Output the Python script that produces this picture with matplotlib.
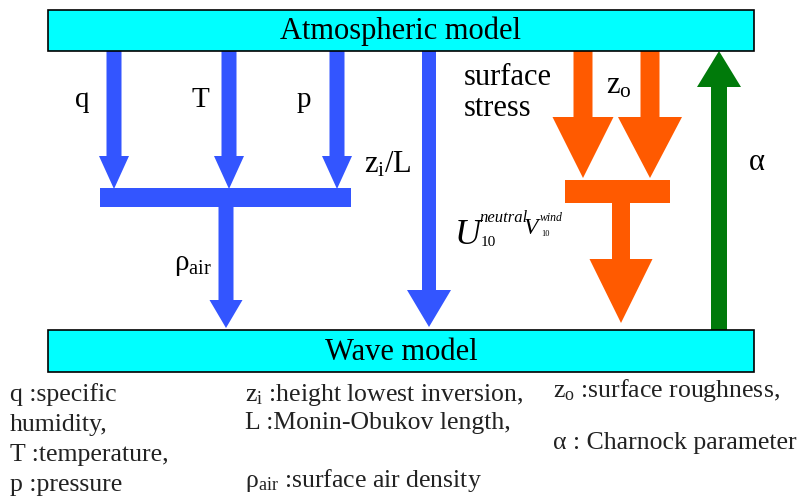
import matplotlib.pyplot as plt
from matplotlib.patches import Rectangle

plt.rcParams['font.family'] = ['Liberation Serif', 'DejaVu Serif']
plt.rcParams['mathtext.fontset'] = 'custom'
plt.rcParams['mathtext.rm'] = 'Liberation Serif'
plt.rcParams['mathtext.it'] = 'Liberation Serif:italic'

blue = '#3355ff'
orange = '#ff5a00'
green = '#007a0a'
cyan = '#00ffff'

# boxes (label, top, bottom)
box_labels = ['Atmospheric model', 'Wave model']
box_top = [10, 330]
box_bot = [51, 372]

# blue input arrows q, T, p
in_labels = ['q', 'T', 'p']
in_x = [114, 229, 337]
in_label_x = [82, 200, 304]

legend_cols = [
    (10, ['q :specific', 'humidity,', 'T :temperature,', 'p :pressure'], [395, 425, 455, 485]),
    (245, [r'z$_{\rm i}$ :height lowest inversion,', 'L :Monin-Obukov length,',
           r'ρ$_{\rm air}$ :surface air density'], [395, 423, 480]),
    (553, [r'z$_{\rm o}$ :surface roughness,', 'α : Charnock parameter'], [390, 443]),
]


def down_arrow(ax, x, y0, y1, sw, hw, hl, color):
    ax.fill([x - sw / 2, x + sw / 2, x + sw / 2, x + hw / 2, x, x - hw / 2, x - sw / 2],
            [y0, y0, y1 - hl, y1 - hl, y1, y1 - hl, y1 - hl], color=color, lw=0)


def up_arrow(ax, x, y0, y1, sw, hw, hl, color):
    ax.fill([x - sw / 2, x + sw / 2, x + sw / 2, x + hw / 2, x, x - hw / 2, x - sw / 2],
            [y0, y0, y1 + hl, y1 + hl, y1, y1 + hl, y1 + hl], color=color, lw=0)


fig = plt.figure(figsize=(8.09, 5.03), dpi=100)
ax = fig.add_axes([0, 0, 1, 1])
ax.set_xlim(0, 809)
ax.set_ylim(503, 0)
ax.axis('off')

for lab, t, b in zip(box_labels, box_top, box_bot):
    ax.add_patch(Rectangle((48, t), 706, b - t, fc=cyan, ec='black', lw=1.2, zorder=3))
    ax.text(401, (t + b) / 2 + 1, lab, ha='center', va='center', fontsize=22, zorder=4)

# q, T, p into collector bar
for lab, x, lx in zip(in_labels, in_x, in_label_x):
    down_arrow(ax, x, 51, 189, 15, 30, 33, blue)
    ax.text(lx, 100, lab, ha='center', va='center', fontsize=21)
ax.add_patch(Rectangle((100, 188), 251, 19, fc=blue, lw=0))
down_arrow(ax, 226, 207, 328, 15, 33, 28, blue)
ax.text(193, 265, r'ρ$_{\rm air}$', ha='center', va='center', fontsize=21)

# zi/L
down_arrow(ax, 429, 51, 327, 14, 44, 37, blue)
ax.text(388, 165, r'z$_{\rm i}$/L', ha='center', va='center', fontsize=22)

# surface stress and z0
down_arrow(ax, 583, 51, 178, 19, 61, 61, orange)
down_arrow(ax, 650, 51, 178, 19, 64, 61, orange)
ax.add_patch(Rectangle((565, 180), 105, 23, fc=orange, lw=0))
down_arrow(ax, 621, 203, 323, 18, 63, 64, orange)
ax.text(464, 93, 'surface\nstress', ha='left', va='center', fontsize=22, linespacing=1.1)
ax.text(619, 86, r'z$_{\rm o}$', ha='center', va='center', fontsize=22)
# U10 neutral / V10 wind label
ax.text(455, 236, 'U', ha='left', va='center', fontsize=26, style='italic')
ax.text(479, 218, 'neutral', ha='left', va='center', fontsize=12, style='italic')
ax.text(481, 242, '10', ha='left', va='center', fontsize=11)
ax.text(524, 228, 'V', ha='left', va='center', fontsize=17, style='italic')
ax.text(540, 218, 'wind', ha='left', va='center', fontsize=8.5, style='italic')
ax.text(541, 234, '10', ha='left', va='center', fontsize=6)

# alpha feedback
up_arrow(ax, 719, 330, 51, 16, 44, 36, green)
ax.text(757, 162, 'α', ha='center', va='center', fontsize=22)

for x, lines, ys in legend_cols:
    for txt, y in zip(lines, ys):
        ax.text(x, y, txt, ha='left', va='center', fontsize=18.5, color='#222222')

fig.savefig('out.png', dpi=100)
